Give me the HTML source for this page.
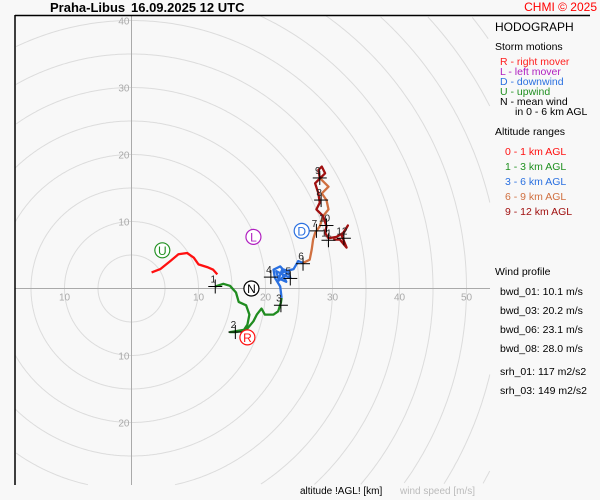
<!DOCTYPE html>
<html><head><meta charset="utf-8"><style>
html,body{margin:0;padding:0;background:#f8f8f8;overflow:hidden;}
body{width:600px;height:500px;overflow:hidden;font-family:"Liberation Sans",sans-serif;}
svg{display:block;overflow:hidden;}
svg text{font-family:"Liberation Sans",sans-serif;}
</style></head><body>
<svg id="chart" width="600" height="500" viewBox="0 0 600 500" xmlns="http://www.w3.org/2000/svg">
<rect x="0" y="0" width="600" height="500" fill="#f8f8f8"/>
<g id="rings"></g>
<g id="axes"></g>
<g id="series"></g>
<g id="marks"></g>
<g id="storms"></g>
<line x1="15" y1="15" x2="15" y2="485" stroke="#000" stroke-width="1.5"/>
<line x1="15" y1="15.5" x2="590" y2="15.5" stroke="#000" stroke-width="1.5"/>
<text x="50" y="12" font-size="13" font-weight="bold" fill="#000">Praha-Libus</text>
<text x="131" y="12" font-size="13" font-weight="bold" fill="#000">16.09.2025 12 UTC</text>
<text x="597" y="11" font-size="12" fill="#ff0000" text-anchor="end">CHMI © 2025</text>
<text x="495" y="31" font-size="12" fill="#000">HODOGRAPH</text>
<text x="495" y="50" font-size="10.5" fill="#000">Storm motions</text>
<g font-size="10.5">
<text x="500" y="65" fill="#ff2020">R - right mover</text>
<text x="500" y="75" fill="#b020c0">L - left mover</text>
<text x="500" y="85" fill="#2a70e0">D - downwind</text>
<text x="500" y="95" fill="#209020">U - upwind</text>
<text x="500" y="105" fill="#000">N - mean wind</text>
<text x="515" y="115" fill="#000">in 0 - 6 km AGL</text>
</g>
<text x="495" y="135" font-size="10.5" fill="#000">Altitude ranges</text>
<g font-size="10.5">
<text x="505" y="155" fill="#ff1010">0 - 1 km AGL</text>
<text x="505" y="170" fill="#209020">1 - 3 km AGL</text>
<text x="505" y="185" fill="#2a70e0">3 - 6 km AGL</text>
<text x="505" y="200" fill="#d07040">6 - 9 km AGL</text>
<text x="505" y="215" fill="#a01010">9 - 12 km AGL</text>
</g>
<text x="495" y="275" font-size="10.5" fill="#000">Wind profile</text>
<g font-size="10.5" fill="#000">
<text x="500" y="295">bwd_01: 10.1 m/s</text>
<text x="500" y="314">bwd_03: 20.2 m/s</text>
<text x="500" y="333">bwd_06: 23.1 m/s</text>
<text x="500" y="352">bwd_08: 28.0 m/s</text>
<text x="500" y="375">srh_01: 117 m2/s2</text>
<text x="500" y="394">srh_03: 149 m2/s2</text>
</g>
<text x="300" y="494" font-size="10" fill="#000">altitude !AGL! [km]</text>
<text x="400" y="494" font-size="10" fill="#bbb">wind speed [m/s]</text>
</svg>
<script>
const ringValues=[5,10,15,20,25,30,35,40,45,50,55,60,65,70];
const xTicks=[10,20,30,40,50];
const yTicks=[10,20,30,40];
const seg1U=[3.0,4.3,5.8,7.0,8.3,9.3,10.0,11.3,12.2,12.8];
const seg1V=[2.4,2.9,4.1,5.1,5.3,4.6,3.6,3.2,2.8,2.1];
const seg2U=[12.5,13.7,14.7,15.6,16.0,17.1,17.6,17.3,16.7,15.5,14.7,17.2,18.2,18.7,19.4,19.9,21.2,21.9,22.3,22.4];
const seg2V=[0.3,0.7,0.4,-0.6,-2.0,-2.5,-3.9,-5.4,-6.3,-6.5,-6.5,-6.1,-4.9,-3.9,-3.0,-3.9,-3.9,-3.4,-2.1,-1.4];
const seg3U=[22.4,22.2,21.4,21.2,22.2,23.2,22.0,21.6,23.0,23.7,23.4,22.5,22.0,23.1,22.4,24.2,24.9,25.6];
const seg3V=[-1.4,0.3,1.6,2.8,3.3,2.2,1.2,2.6,1.9,1.6,2.6,2.9,1.5,1.0,2.4,2.9,4.1,3.8];
const seg4U=[25.6,26.6,26.9,27.1,27.4,28.1,28.6,29.4,29.1,28.4,29.4,28.6,28.1];
const seg4V=[3.8,4.3,5.8,7.3,8.3,9.3,10.8,11.8,13.2,14.2,15.2,16.0,16.5];
const seg5U=[28.1,27.9,28.4,28.9,28.1,27.4,27.9,28.1,27.6,28.6,29.1,28.9,29.4,30.6,31.6,32.3,31.4,32.1,31.1,30.1];
const seg5V=[16.5,17.7,18.2,17.2,16.4,15.7,14.2,12.8,11.8,10.8,9.3,8.3,7.5,7.7,8.3,9.4,7.8,6.1,7.3,7.3];
const markLabels=["1","2","3","4","5","6","7","8","9","10","11","12"];
const markU=[12.5,15.5,22.3,20.8,23.7,25.6,27.6,28.3,28.1,29.1,29.4,31.7];
const markV=[0.3,-6.5,-2.5,1.7,1.5,3.7,8.6,13.2,16.5,9.4,7.2,7.5];
const stormLabels=["R","L","D","U","N"];
const stormU=[17.3,18.2,25.4,4.6,17.9];
const stormV=[-7.3,7.7,8.6,5.7,0];

const OX=131.5,OY=288.5,S=6.7;
const X0=15,X1=490,Y0=15,Y1=485;
const xs=u=>OX+u*S, ys=v=>OY-v*S;
const NS="http://www.w3.org/2000/svg";
function mk(tag,attrs,parent){const e=document.createElementNS(NS,tag);for(const k in attrs)e.setAttribute(k,attrs[k]);parent.appendChild(e);return e;}
const rings=document.getElementById('rings');
ringValues.forEach(r=>{
  const R=r*S;let runs=[],cur=[];
  for(let i=0;i<=720;i++){const a=i/720*2*Math.PI;const x=OX+R*Math.cos(a),y=OY-R*Math.sin(a);
    if(x>=X0&&x<=X1&&y>=Y0&&y<=Y1){cur.push(x.toFixed(1)+','+y.toFixed(1));}
    else{if(cur.length>1)runs.push(cur);cur=[];}}
  if(cur.length>1)runs.push(cur);
  runs.forEach(run=>{const p=mk('polyline',{points:run.join(' '),fill:'none',stroke:'#dcdcdc','stroke-width':1},rings);
  
  });
});
const axes=document.getElementById('axes');
let l=mk('line',{x1:X0,y1:OY,x2:X1,y2:OY,stroke:'#aaa','stroke-width':1},axes);


l=mk('line',{x1:OX,y1:Y0,x2:OX,y2:Y1,stroke:'#aaa','stroke-width':1},axes);


xTicks.forEach(t=>{[t,-t].forEach(tv=>{if(xs(tv)<20)return;const tx=mk('text',{x:xs(tv),y:OY+12,'font-size':10,fill:'#aaa','text-anchor':'middle'},axes);tx.textContent=t;

});});
yTicks.forEach(t=>{[t,-t].forEach(tv=>{const yy=ys(tv);if(yy<18||yy>480)return;const tx=mk('text',{x:OX-2,y:yy+4,'font-size':10,fill:'#aaa','text-anchor':'end'},axes);tx.textContent=t;

});});
const series=document.getElementById('series');
const segs=[[seg1U,seg1V,'#ff1010','segment-0-1km'],[seg2U,seg2V,'#208c20','segment-1-3km'],[seg3U,seg3V,'#2a70e0','segment-3-6km'],[seg4U,seg4V,'#d07040','segment-6-9km'],[seg5U,seg5V,'#a01010','segment-9-12km']];
segs.forEach(s=>{const pts=s[0].map((u,i)=>xs(u).toFixed(1)+','+ys(s[1][i]).toFixed(1)).join(' ');
const p=mk('polyline',{points:pts,fill:'none',stroke:s[2],'stroke-width':2.3,'stroke-linejoin':'round'},series);

});
const marks=document.getElementById('marks');
markLabels.forEach((lb,i)=>{const x=xs(markU[i]),y=ys(markV[i]);
const g=mk('g',{},marks);


mk('line',{x1:x-7,y1:y,x2:x+7,y2:y,stroke:'#000','stroke-width':1},g);
mk('line',{x1:x,y1:y-7,x2:x,y2:y+7,stroke:'#000','stroke-width':1},g);
const t=mk('text',{x:x-2,y:y-4,'font-size':10,fill:'#222','text-anchor':'middle'},g);t.textContent=lb;});
const storms=document.getElementById('storms');
const sc={R:'#ff1010',L:'#b020c0',D:'#2a70e0',U:'#209020',N:'#000'};
stormLabels.forEach((lb,i)=>{const x=xs(stormU[i]),y=ys(stormV[i]);
const g=mk('g',{},storms);


mk('circle',{cx:x,cy:y,r:7.5,fill:'#fff',stroke:sc[lb],'stroke-width':1.2},g);
const t=mk('text',{x:x,y:y+4.5,'font-size':12,fill:sc[lb],'text-anchor':'middle'},g);t.textContent=lb;});
</script>
</body></html>
